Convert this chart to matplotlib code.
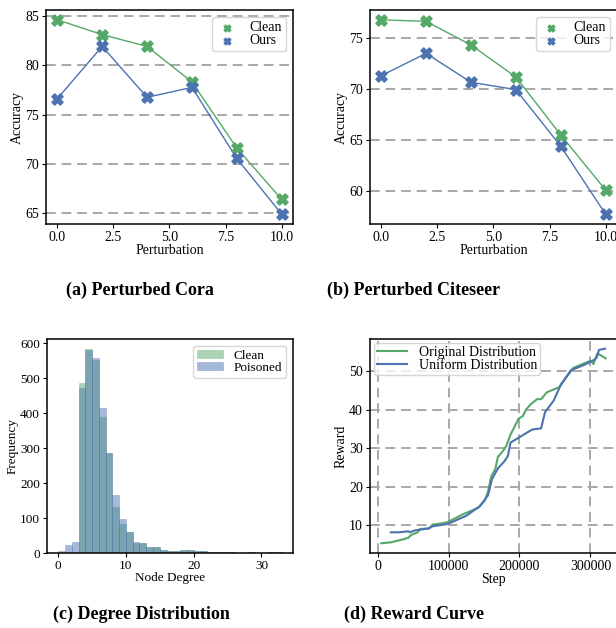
import numpy as np
import matplotlib
matplotlib.use('Agg')
import matplotlib.pyplot as plt

plt.rcParams['font.family'] = ['Liberation Serif', 'DejaVu Serif']
plt.rcParams['font.size'] = 10

green = '#55A868'
blue = '#4C72B0'

# (a) / (b) perturbation results
perturbation = [0, 2, 4, 6, 8, 10]
cora_clean = [84.6, 83.1, 81.9, 78.3, 71.6, 66.4]
cora_ours = [76.6, 81.9, 76.75, 77.75, 70.55, 64.9]
citeseer_clean = [76.83, 76.67, 74.35, 71.2, 65.5, 60.07]
citeseer_ours = [71.33, 73.53, 70.68, 69.96, 64.39, 57.7]

# (c) degree histograms (integer bins starting at 0)
degree_edges = list(range(0, 34))
clean_counts = [0, 0, 0, 485, 583, 553, 390, 285, 131, 83, 59, 29, 30, 16, 18,
                9, 7, 7, 8, 10, 5, 5, 2, 4, 2, 3, 1, 1, 2, 1, 1, 2, 4]
poisoned_counts = [5, 22, 32, 473, 582, 557, 415, 285, 165, 97, 60, 32, 30, 16, 18,
                   9, 7, 7, 8, 10, 5, 5, 2, 4, 2, 3, 1, 1, 2, 1, 1, 2, 4]

# (d) reward curves
orig_step = [5100, 19200, 38800, 43500, 47200, 56500, 59800, 72400, 77600, 90200,
             99500, 108900, 120600, 132200, 141600, 151000, 155600, 160300, 165900,
             169600, 176600, 181300, 187400, 193000, 198600, 204700, 209300, 215400,
             224800, 230400, 238800, 256100, 265400, 275700, 300500, 304200, 309800,
             321500]
orig_reward = [5.34, 5.6, 6.5, 6.8, 7.5, 8.2, 9.05, 9.2, 10.2, 10.5, 10.9, 11.8, 12.9,
               13.8, 14.6, 16.4, 18.7, 22.8, 24.6, 27.8, 29.3, 30.6, 33.6, 35.6, 37.7,
               38.4, 40.1, 41.4, 42.8, 42.8, 44.6, 45.9, 48.3, 50.9, 52.8, 51.9, 54.7,
               53.4]
unif_step = [18700, 30400, 43500, 45300, 52800, 72400, 77100, 97200, 104200, 125200,
             136900, 143900, 155600, 161200, 169600, 179000, 183600, 187400, 217800,
             230400, 236000, 248100, 258400, 272400, 291100, 305100, 308900, 312100,
             320600]
unif_reward = [8.2, 8.2, 8.45, 8.2, 8.7, 9.2, 9.75, 10.3, 10.8, 12.5, 14.05, 14.9, 17.8,
               22.0, 24.8, 26.7, 28.0, 31.5, 34.9, 35.2, 39.4, 42.4, 46.6, 50.3, 51.7,
               53.0, 53.6, 55.6, 55.9]

fig = plt.figure(figsize=(6.16, 6.28), dpi=100)
ax_a = fig.add_axes([0.0747, 0.6433, 0.4009, 0.3407])
ax_b = fig.add_axes([0.6006, 0.6433, 0.4009, 0.3407])
ax_c = fig.add_axes([0.0763, 0.1194, 0.3993, 0.3408])
ax_d = fig.add_axes([0.6006, 0.1194, 0.4009, 0.3408])

grid_kw = dict(color='#a8a8a8', linestyle=(0, (5, 3)), linewidth=1.4)


def plot_perturbed(ax, clean, ours):
    ax.plot(perturbation, clean, color=green, lw=1, zorder=2)
    ax.plot(perturbation, ours, color=blue, lw=1, zorder=2)
    ax.scatter(perturbation, clean, marker='X', s=65, color=green, label='Clean', zorder=3)
    ax.scatter(perturbation, ours, marker='X', s=65, color=blue, label='Ours', zorder=3)
    ax.yaxis.grid(True, **grid_kw)
    ax.set_axisbelow(True)
    ax.set_xlabel('Perturbation', labelpad=0)
    ax.set_ylabel('Accuracy', labelpad=1)
    ax.legend(loc='upper right', markerscale=0.6, handlelength=1.6, handletextpad=0.8,
              borderpad=0.3, labelspacing=0.0)


plot_perturbed(ax_a, cora_clean, cora_ours)
plot_perturbed(ax_b, citeseer_clean, citeseer_ours)
ax_a.set_xticks([0, 2.5, 5, 7.5, 10])
ax_b.set_xticks([0, 2.5, 5, 7.5, 10])

# histogram
centers = np.array(degree_edges[:-1]) + 0.5
ax_c.hist(centers, bins=degree_edges, weights=clean_counts, color=green, alpha=0.5,
          edgecolor=green, linewidth=0.4, label='Clean')
ax_c.hist(centers, bins=degree_edges, weights=poisoned_counts, color=blue, alpha=0.5,
          edgecolor=blue, linewidth=0.4, label='Poisoned')
ax_c.set_xlabel('Node Degree', labelpad=0, fontsize=9.5)
ax_c.set_ylabel('Frequency', labelpad=1, fontsize=9.5)
ax_c.tick_params(labelsize=9.5)
ax_c.legend(loc='upper right', borderpad=0.3, labelspacing=0.0, handletextpad=0.8,
            handleheight=0.6, fontsize=9.5)

# reward curves
ax_d.plot(orig_step, orig_reward, color=green, lw=1.5, label='Original Distribution')
ax_d.plot(unif_step, unif_reward, color=blue, lw=1.5, label='Uniform Distribution')
ax_d.grid(True, **grid_kw)
ax_d.set_axisbelow(True)
ax_d.set_xticks([0, 100000, 200000, 300000])
ax_d.set_xticklabels(['0', '100000', '200000', '300000'])
ax_d.set_xlabel('Step', labelpad=0)
ax_d.set_ylabel('Reward', labelpad=1)
ax_d.legend(loc='upper left', borderpad=0.2, labelspacing=0.0, handlelength=2.2,
            borderaxespad=0.3)

for ax in (ax_a, ax_b, ax_c, ax_d):
    for s in ax.spines.values():
        s.set_linewidth(1.1)
        s.set_color('black')
    ax.tick_params(length=3, width=0.8, pad=2)

cap_kw = dict(fontsize=13, fontweight='bold', ha='center', va='center')
fig.text(140 / 616, 1 - 290 / 628, '(a) Perturbed Cora', **cap_kw)
fig.text(414 / 616, 1 - 290 / 628, '(b) Perturbed Citeseer', **cap_kw)
fig.text(141 / 616, 1 - 614 / 628, '(c) Degree Distribution', **cap_kw)
fig.text(414 / 616, 1 - 614 / 628, '(d) Reward Curve', **cap_kw)

fig.savefig('out.png', dpi=100)
